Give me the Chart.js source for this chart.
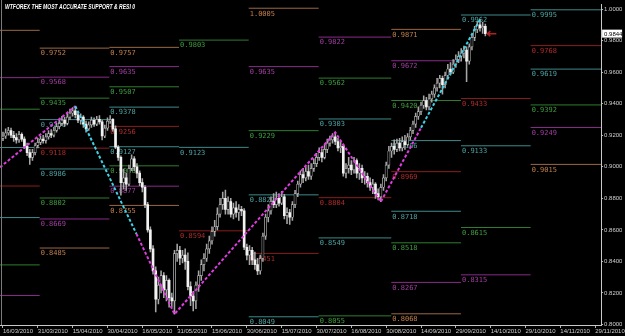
<!DOCTYPE html>
<html>
<head>
<meta charset="utf-8">
<title>AUDUSD Daily - support &amp; resistance</title>
<script src="https://cdn.jsdelivr.net/npm/chart.js@4.4.0/dist/chart.umd.min.js"></script>
<style>
  html, body { margin: 0; padding: 0; background: #000; }
  canvas { display: block; }
</style>
</head>
<body>
<canvas id="chart" width="625" height="336"></canvas>
<script>
// daily candles, bar 0 = 16/03/2010, last bar = 12/10/2010
const opens = [
  0.9180,0.9195,0.9215,0.9230,0.9200,0.9185,0.9170,0.9205,0.9175,0.9130,
  0.9090,0.9060,0.9090,0.9135,0.9155,0.9175,0.9165,0.9190,0.9210,0.9200,
  0.9230,0.9255,0.9275,0.9295,0.9275,0.9315,0.9340,0.9355,0.9330,0.9295,
  0.9315,0.9270,0.9240,0.9265,0.9295,0.9270,0.9300,0.9285,0.9195,0.9245,
  0.9290,0.9300,0.9240,0.9125,0.9060,0.8900,0.8930,0.8890,0.8990,0.9050,
  0.9000,0.8960,0.8900,0.8870,0.8760,0.8600,0.8480,0.8340,0.8160,0.8250,
  0.8310,0.8220,0.8280,0.8170,0.8150,0.8450,0.8470,0.8420,0.8440,0.8400,
  0.8240,0.8180,0.8150,0.8250,0.8310,0.8380,0.8420,0.8480,0.8530,0.8590,
  0.8620,0.8700,0.8760,0.8800,0.8730,0.8780,0.8700,0.8740,0.8710,0.8730,
  0.8720,0.8490,0.8440,0.8470,0.8410,0.8380,0.8340,0.8420,0.8560,0.8680,
  0.8720,0.8780,0.8760,0.8800,0.8770,0.8810,0.8690,0.8710,0.8680,0.8760,
  0.8830,0.8890,0.8950,0.8930,0.8970,0.8940,0.8990,0.9020,0.9060,0.9090,
  0.9060,0.9110,0.9150,0.9170,0.9190,0.9160,0.9120,0.9130,0.8960,0.8990,
  0.9010,0.8980,0.9040,0.8960,0.8990,0.8930,0.8940,0.8900,0.8870,0.8890,
  0.8830,0.8810,0.8870,0.8930,0.9010,0.9100,0.9130,0.9110,0.9150,0.9120,
  0.9160,0.9140,0.9190,0.9230,0.9270,0.9320,0.9350,0.9390,0.9420,0.9380,
  0.9430,0.9460,0.9500,0.9530,0.9560,0.9520,0.9580,0.9620,0.9600,0.9650,
  0.9680,0.9700,0.9720,0.9740,0.9670,0.9760,0.9820,0.9870,0.9900,0.9880,
  0.9890
];
const highs = [
  0.9220,0.9240,0.9250,0.9245,0.9225,0.9210,0.9225,0.9215,0.9190,0.9150,
  0.9110,0.9110,0.9150,0.9180,0.9195,0.9200,0.9210,0.9230,0.9235,0.9250,
  0.9275,0.9300,0.9320,0.9315,0.9340,0.9365,0.9375,0.9384,0.9350,0.9335,
  0.9325,0.9290,0.9285,0.9315,0.9310,0.9320,0.9325,0.9295,0.9265,0.9310,
  0.9325,0.9305,0.9260,0.9135,0.9070,0.8985,0.8960,0.9010,0.9075,0.9065,
  0.9020,0.8975,0.8925,0.8880,0.8775,0.8620,0.8500,0.8365,0.8300,0.8340,
  0.8330,0.8310,0.8290,0.8200,0.8470,0.8510,0.8495,0.8470,0.8480,0.8455,
  0.8270,0.8210,0.8270,0.8340,0.8410,0.8450,0.8510,0.8560,0.8620,0.8660,
  0.8740,0.8800,0.8840,0.8853,0.8810,0.8800,0.8770,0.8780,0.8760,0.8750,
  0.8735,0.8510,0.8500,0.8490,0.8460,0.8420,0.8440,0.8580,0.8700,0.8760,
  0.8810,0.8830,0.8840,0.8830,0.8845,0.8825,0.8740,0.8730,0.8780,0.8850,
  0.8910,0.8975,0.8990,0.9000,0.9010,0.9020,0.9050,0.9085,0.9120,0.9110,
  0.9140,0.9175,0.9195,0.9210,0.9218,0.9180,0.9160,0.9140,0.9020,0.9060,
  0.9040,0.9060,0.9050,0.9020,0.9010,0.8970,0.8960,0.8930,0.8920,0.8900,
  0.8860,0.8890,0.8950,0.9030,0.9130,0.9150,0.9170,0.9175,0.9180,0.9190,
  0.9200,0.9210,0.9250,0.9290,0.9340,0.9380,0.9410,0.9450,0.9440,0.9460,
  0.9480,0.9520,0.9560,0.9580,0.9575,0.9600,0.9650,0.9660,0.9680,0.9710,
  0.9730,0.9750,0.9765,0.9760,0.9780,0.9840,0.9890,0.9920,0.9934,0.9915,
  0.9905
];
const lows = [
  0.9165,0.9180,0.9200,0.9185,0.9160,0.9150,0.9155,0.9160,0.9115,0.9070,
  0.9015,0.9040,0.9075,0.9120,0.9140,0.9150,0.9150,0.9175,0.9185,0.9190,
  0.9220,0.9240,0.9260,0.9255,0.9265,0.9300,0.9320,0.9310,0.9280,0.9270,
  0.9250,0.9220,0.9230,0.9250,0.9255,0.9260,0.9270,0.9170,0.9185,0.9230,
  0.9275,0.9225,0.9115,0.9040,0.8820,0.8860,0.8850,0.8880,0.8975,0.8975,
  0.8930,0.8880,0.8840,0.8740,0.8585,0.8460,0.8320,0.8080,0.8130,0.8200,
  0.8170,0.8150,0.8110,0.8110,0.8066,0.8400,0.8380,0.8390,0.8350,0.8220,
  0.8120,0.8087,0.8100,0.8210,0.8280,0.8340,0.8400,0.8450,0.8510,0.8560,
  0.8600,0.8680,0.8730,0.8700,0.8700,0.8680,0.8670,0.8680,0.8660,0.8690,
  0.8475,0.8410,0.8380,0.8380,0.8350,0.8316,0.8320,0.8400,0.8540,0.8650,
  0.8700,0.8740,0.8740,0.8750,0.8760,0.8670,0.8640,0.8634,0.8660,0.8740,
  0.8810,0.8870,0.8900,0.8910,0.8920,0.8920,0.8970,0.9000,0.9040,0.9030,
  0.9050,0.9090,0.9130,0.9150,0.9140,0.9100,0.9090,0.8940,0.8930,0.8960,
  0.8950,0.8960,0.8930,0.8920,0.8900,0.8890,0.8870,0.8850,0.8830,0.8800,
  0.8790,0.8778,0.8850,0.8910,0.8990,0.9060,0.9080,0.9095,0.9100,0.9100,
  0.9110,0.9130,0.9170,0.9210,0.9250,0.9300,0.9330,0.9370,0.9360,0.9360,
  0.9410,0.9440,0.9480,0.9500,0.9460,0.9500,0.9560,0.9580,0.9590,0.9630,
  0.9660,0.9670,0.9690,0.9540,0.9650,0.9740,0.9800,0.9850,0.9860,0.9845,
  0.9830
];
const closes = [
  0.9195,0.9215,0.9230,0.9200,0.9185,0.9170,0.9205,0.9175,0.9130,0.9090,
  0.9060,0.9090,0.9135,0.9155,0.9175,0.9165,0.9190,0.9210,0.9200,0.9230,
  0.9255,0.9275,0.9295,0.9275,0.9315,0.9340,0.9355,0.9330,0.9295,0.9315,
  0.9270,0.9240,0.9265,0.9295,0.9270,0.9300,0.9285,0.9195,0.9245,0.9290,
  0.9300,0.9240,0.9125,0.9060,0.8900,0.8930,0.8890,0.8990,0.9050,0.9000,
  0.8960,0.8900,0.8870,0.8760,0.8600,0.8480,0.8340,0.8160,0.8250,0.8310,
  0.8220,0.8280,0.8170,0.8150,0.8450,0.8470,0.8420,0.8440,0.8400,0.8240,
  0.8180,0.8150,0.8250,0.8310,0.8380,0.8420,0.8480,0.8530,0.8590,0.8620,
  0.8700,0.8760,0.8800,0.8730,0.8780,0.8700,0.8740,0.8710,0.8730,0.8720,
  0.8490,0.8440,0.8470,0.8410,0.8380,0.8340,0.8420,0.8560,0.8680,0.8720,
  0.8780,0.8760,0.8800,0.8770,0.8810,0.8690,0.8710,0.8680,0.8760,0.8830,
  0.8890,0.8950,0.8930,0.8970,0.8940,0.8990,0.9020,0.9060,0.9090,0.9060,
  0.9110,0.9150,0.9170,0.9190,0.9160,0.9120,0.9130,0.8960,0.8990,0.9010,
  0.8980,0.9040,0.8960,0.8990,0.8930,0.8940,0.8900,0.8870,0.8890,0.8830,
  0.8810,0.8870,0.8930,0.9010,0.9100,0.9130,0.9110,0.9150,0.9120,0.9160,
  0.9140,0.9190,0.9230,0.9270,0.9320,0.9350,0.9390,0.9420,0.9380,0.9430,
  0.9460,0.9500,0.9530,0.9560,0.9520,0.9580,0.9620,0.9600,0.9650,0.9680,
  0.9700,0.9720,0.9740,0.9670,0.9760,0.9820,0.9870,0.9900,0.9880,0.9890,
  0.9844
];
const lastPrice = 0.9844;

// bottom axis: one date every 13 bars
const dateTickBars = [0, 13, 26, 39, 52, 65, 78, 91, 104, 117, 130, 143, 156, 169, 182, 195, 208, 221];
const dateLabels = ['16/03/2010', '31/03/2010', '15/04/2010', '30/04/2010', '16/05/2010', '31/05/2010',
  '15/06/2010', '30/06/2010', '15/07/2010', '30/07/2010', '16/08/2010', '30/08/2010',
  '14/09/2010', '29/09/2010', '14/10/2010', '29/10/2010', '14/11/2010', '29/11/2010'];
const priceTicks = [0.80, 0.82, 0.84, 0.86, 0.88, 0.90, 0.92, 0.94, 0.96, 0.98, 1.00];

// monthly support / resistance levels, Mar..Nov (bar where each month begins)
const monthEdges = [-1.2, 13.7, 39.7, 65.7, 91.7, 117.8, 144.9, 170.9, 196.9, 223.2];
const levelsMar = [0.9865, 0.9565, 0.9365, 0.9122, 0.8878, 0.8678, 0.8378, 0.8184];
const levelsApr = [0.9752, 0.9568, 0.9435, 0.9299, 0.9118, 0.8986, 0.8802, 0.8669, 0.8485];
const levelsMay = [0.9757, 0.9635, 0.9507, 0.9378, 0.9256, 0.9127, 0.9006, 0.8877, 0.8755];
const levelsJun = [0.9803, 0.9123, 0.8594];
const levelsJul = [1.0005, 0.9635, 0.9229, 0.8822, 0.8451, 0.8049];
const levelsAug = [0.9822, 0.9562, 0.9303, 0.8804, 0.8549, 0.8055];
const levelsSep = [0.9871, 0.9672, 0.9420, 0.9166, 0.8969, 0.8718, 0.8518, 0.8267, 0.8068];
const levelsOct = [0.9962, 0.9433, 0.9133, 0.8615, 0.8315];
const levelsNov = [0.9995, 0.9768, 0.9619, 0.9392, 0.9249, 0.9015];
// T = R4/S4, P = R3/S3, G = R2/S2, C = R1/S1, R = pivot
const kindsMar = 'TPGCRCGP';
const kindsApr = 'TPGCRCGPT';
const kindsMay = 'TPGCRCGPT';
const kindsJun = 'GCR';
const kindsJul = 'TPGCRC';
const kindsAug = 'PGCRCG';
const kindsSep = 'TPGCRCGPT';
const kindsOct = 'CRCGP';
const kindsNov = 'CRCGPT';

// zigzag swings (bar, price); null = break between colours
const zigMagentaBars = [-1.1, 27, null, 49.8, 64, 124, 141, 156];
const zigMagentaPrices = [0.8997, 0.9384, null, 0.8575, 0.8066, 0.9218, 0.8778, 0.9247];
const zigCyanBars = [27, 49.8, null, 156, 178];
const zigCyanPrices = [0.9384, 0.8575, null, 0.9247, 0.9934];

const monthLevels = [levelsMar, levelsApr, levelsMay, levelsJun, levelsJul, levelsAug, levelsSep, levelsOct, levelsNov];
const monthKinds = [kindsMar, kindsApr, kindsMay, kindsJun, kindsJul, kindsAug, kindsSep, kindsOct, kindsNov];

const lineColors = { T: '#9a6845', P: '#8a2a8a', G: '#2f7d2f', C: '#3e8a8a', R: '#8a1e1e' };
const textColors = { T: '#c27f4c', P: '#a23ea2', G: '#3f9e3f', C: '#4fa3a3', R: '#b02c2c' };
const axisFont = { family: '"Liberation Sans Narrow", "Liberation Sans", sans-serif', size: 6 };

var datasets = [];

// level segments
monthLevels.forEach(function(vals, m) {
    vals.forEach(function(v, k) {
        datasets.push({
            type: 'line',
            data: [{ x: monthEdges[m], y: v }, { x: monthEdges[m + 1], y: v }],
            borderColor: lineColors[monthKinds[m][k]],
            borderWidth: 1,
            pointRadius: 0,
            order: 4
        });
    });
});

// candles: wick, hollow up body, filled down body
var bars = closes.map(function(c, i) { return i; });
datasets.push({
    type: 'bar',
    data: bars.map(function(i) { return { x: i, y: [lows[i], highs[i]] }; }),
    backgroundColor: '#a6a6a6',
    barThickness: 0.9,
    grouped: false,
    order: 3
});
datasets.push({
    type: 'bar',
    data: bars.filter(function(i) { return closes[i] >= opens[i]; })
              .map(function(i) { return { x: i, y: [opens[i], closes[i]] }; }),
    backgroundColor: '#000',
    borderColor: '#bdbdbd',
    borderWidth: 0.7,
    borderSkipped: false,
    barThickness: 2.3,
    minBarLength: 1,
    grouped: false,
    order: 2
});
datasets.push({
    type: 'bar',
    data: bars.filter(function(i) { return closes[i] < opens[i]; })
              .map(function(i) { return { x: i, y: [closes[i], opens[i]] }; }),
    backgroundColor: '#f2f2f2',
    barThickness: 2,
    minBarLength: 1,
    grouped: false,
    order: 2
});

// zigzag
function zigPoints(xs, ys) {
    return xs.map(function(x, i) { return { x: x === null ? 0 : x, y: ys[i] }; });
}
datasets.push({
    type: 'line',
    data: zigPoints(zigMagentaBars, zigMagentaPrices),
    borderColor: '#e03ce0',
    borderWidth: 2,
    borderDash: [3, 2],
    pointRadius: 0,
    spanGaps: false,
    order: 1
});
datasets.push({
    type: 'line',
    data: zigPoints(zigCyanBars, zigCyanPrices),
    borderColor: '#3fd2e6',
    borderWidth: 2,
    borderDash: [3, 2],
    pointRadius: 0,
    spanGaps: false,
    order: 0
});

const overlayPlugin = {
    id: 'overlay',
    beforeDatasetsDraw: function(chart) {
        // level values written under the left end of each segment
        var ctx = chart.ctx, xs = chart.scales.x, ys = chart.scales.y, a = chart.chartArea;
        ctx.save();
        ctx.beginPath();
        ctx.rect(a.left, a.top, a.right - a.left, a.bottom - a.top);
        ctx.clip();
        ctx.font = '7px "DejaVu Sans Mono", monospace';
        ctx.textBaseline = 'top';
        ctx.textAlign = 'left';
        monthLevels.forEach(function(vals, m) {
            if (m === 0) return; // March labels sit left of the window
            vals.forEach(function(v, k) {
                ctx.fillStyle = textColors[monthKinds[m][k]];
                ctx.fillText(v.toFixed(4), xs.getPixelForValue(monthEdges[m]) + 1, ys.getPixelForValue(v) + 2);
            });
        });
        ctx.restore();
    },
    afterDraw: function(chart) {
        var ctx = chart.ctx, xs = chart.scales.x, ys = chart.scales.y, a = chart.chartArea;
        ctx.save();
        // left frame line
        ctx.strokeStyle = '#7a7a7a';
        ctx.lineWidth = 1;
        ctx.beginPath();
        ctx.moveTo(1.5, 0);
        ctx.lineTo(1.5, a.bottom);
        ctx.stroke();

        // title
        var title = 'WTFOREX THE MOST ACCURATE SUPPORT & RESI 0';
        ctx.font = 'italic bold 7px "Liberation Sans", sans-serif';
        var w = ctx.measureText(title).width;
        ctx.fillStyle = '#ffffff';
        ctx.textBaseline = 'alphabetic';
        ctx.translate(5, 9);
        ctx.scale(130 / w, 1);
        ctx.fillText(title, 0, 0);
        ctx.restore();

        // current price box and arrow
        var py = ys.getPixelForValue(lastPrice);
        ctx.save();
        ctx.fillStyle = '#ffffff';
        ctx.fillRect(a.right + 1, py - 4, 20, 8);
        ctx.fillStyle = '#000';
        ctx.font = '6px "Liberation Sans Narrow", "Liberation Sans", sans-serif';
        ctx.textBaseline = 'middle';
        ctx.fillText(lastPrice.toFixed(4), a.right + 3, py + 0.5);
        var ax = xs.getPixelForValue(closes.length - 1) + 2;
        ctx.strokeStyle = '#b02020';
        ctx.lineWidth = 1.5;
        ctx.beginPath();
        ctx.moveTo(ax, py);
        ctx.lineTo(ax + 9, py);
        ctx.moveTo(ax + 3, py - 2.5);
        ctx.lineTo(ax, py);
        ctx.lineTo(ax + 3, py + 2.5);
        ctx.stroke();
        ctx.restore();
    }
};

new Chart(document.getElementById('chart').getContext('2d'), {
    type: 'bar',
    data: { datasets: datasets },
    options: {
        responsive: false,
        animation: false,
        events: [],
        layout: { padding: 0 },
        plugins: {
            legend: { display: false },
            tooltip: { enabled: false }
        },
        scales: {
            x: {
                type: 'linear',
                position: 'bottom',
                min: -1.11,
                max: 223.2,
                offset: false,
                afterFit: function(s) { s.height = 11; },
                afterBuildTicks: function(s) {
                    s.ticks = dateTickBars.map(function(v) { return { value: v }; });
                },
                ticks: {
                    callback: function(v, i) { return dateLabels[i]; },
                    align: 'start',
                    autoSkip: false,
                    maxRotation: 0,
                    padding: 0,
                    color: '#cfcfcf',
                    font: axisFont
                },
                grid: { drawOnChartArea: false, offset: false, tickLength: 3, color: '#b0b0b0' },
                border: { color: '#c8c8c8' }
            },
            y: {
                type: 'linear',
                position: 'right',
                min: 0.7997,
                max: 1.0028,
                afterFit: function(s) { s.width = 21; },
                afterBuildTicks: function(s) {
                    s.ticks = priceTicks.map(function(v) { return { value: v }; });
                },
                ticks: {
                    callback: function(v) { return v.toFixed(4); },
                    padding: 1,
                    color: '#cfcfcf',
                    font: axisFont
                },
                grid: { drawOnChartArea: false, tickLength: 2, color: '#b0b0b0' },
                border: { color: '#c8c8c8' }
            }
        }
    },
    plugins: [overlayPlugin]
});
</script>
</body>
</html>
